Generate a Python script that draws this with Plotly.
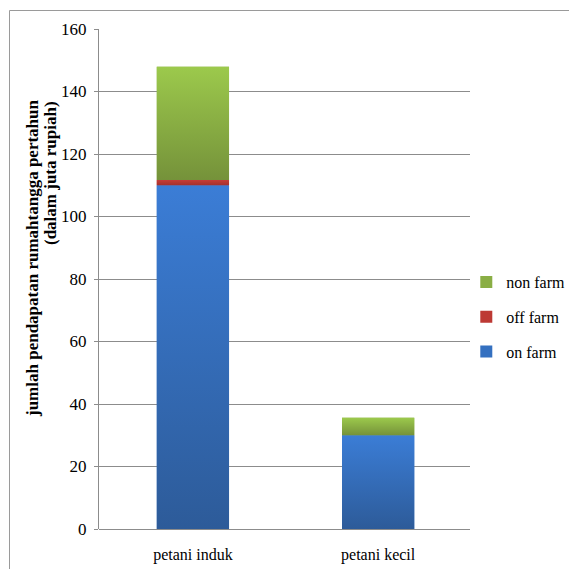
import plotly.graph_objects as go

categories = ["petani induk", "petani kecil"]
on_farm = [110.0, 30.0]
off_farm = [1.7, 0.0]
non_farm = [36.2, 5.6]

y_ticks = [0, 20, 40, 60, 80, 100, 120, 140, 160]

title_line1 = "jumlah pendapatan rumahtangga pertahun"
title_line2 = "(dalam juta rupiah)"

serif = "Liberation Serif"
bar_width = 0.39

# series name, values, flat colour (legend), gradient bottom -> top, legend rank
series = [
    ("on farm", on_farm, "#3470c0", "#2d5b99", "#3b7dd6", 3),
    ("off farm", off_farm, "#bd3934", "#a4312d", "#c63c36", 2),
    ("non farm", non_farm, "#8aae45", "#75923a", "#9cc94c", 1),
]

positions = list(range(len(categories)))

fig = go.Figure()
base = [0.0] * len(categories)
for name, values, flat, bottom_col, top_col, rank in series:
    fig.add_trace(go.Bar(name=name, x=positions, y=values, base=base[:], width=bar_width,
                         legendgroup=name, legendrank=rank,
                         marker=dict(color=flat, line=dict(width=0))))
    # vertical gradient fill for each stacked segment
    for i, v in enumerate(values):
        if v <= 0:
            continue
        x0, x1 = i - bar_width / 2, i + bar_width / 2
        y0, y1 = base[i], base[i] + v
        fig.add_trace(go.Scatter(
            x=[x0, x1, x1, x0, x0], y=[y0, y0, y1, y1, y0],
            mode="none", fill="toself", showlegend=False, hoverinfo="skip",
            legendgroup=name, legendrank=rank,
            fillcolor=flat,
            fillgradient=dict(type="vertical", start=y0, stop=y1,
                              colorscale=[[0, bottom_col], [1, top_col]]),
        ))
    base = [b + v for b, v in zip(base, values)]

fig.update_layout(
    width=569, height=569,
    margin=dict(l=99, r=99, t=29, b=40, autoexpand=False),
    barmode="overlay",
    plot_bgcolor="white",
    paper_bgcolor="white",
    font=dict(family=serif, size=16, color="black"),
    showlegend=True,
    legend=dict(traceorder="grouped", x=0.99, y=0.424, xanchor="left", yanchor="middle",
                font=dict(family=serif, size=16), tracegroupgap=11,
                bgcolor="rgba(0,0,0,0)"),
    xaxis=dict(range=[-0.507, 1.496], tickvals=positions, ticktext=categories,
               showline=False, ticks="", showgrid=False, zeroline=False,
               ticklabelstandoff=14,
               tickfont=dict(family=serif, size=16)),
    yaxis=dict(range=[0, 160], tickvals=y_ticks, showgrid=True, gridcolor="#8c8c8c",
               gridwidth=1, showline=True, linecolor="#8c8c8c", linewidth=1,
               ticks="outside", ticklen=4, tickcolor="#8c8c8c",
               ticklabelstandoff=4,
               tickfont=dict(family=serif, size=17),
               zeroline=True, zerolinecolor="#8c8c8c", zerolinewidth=1),
    annotations=[
        dict(text="<b>" + title_line1 + "</b>", textangle=-90, showarrow=False,
             xref="paper", yref="paper", x=-0.1806, y=0.542,
             xanchor="center", yanchor="middle",
             font=dict(family=serif, size=17, color="black")),
        dict(text="<b>" + title_line2 + "</b>", textangle=-90, showarrow=False,
             xref="paper", yref="paper", x=-0.1321, y=0.712,
             xanchor="center", yanchor="middle",
             font=dict(family=serif, size=17, color="black")),
    ],
    shapes=[
        dict(type="line", xref="paper", yref="paper", x0=-0.2412, x1=1.6, y0=1.037, y1=1.037,
             line=dict(color="#9a9a9a", width=1)),
        dict(type="line", xref="paper", yref="paper", x0=-0.2412, x1=-0.2412, y0=-0.2, y1=1.037,
             line=dict(color="#9a9a9a", width=1)),
    ],
)

fig.write_html("out.html")
